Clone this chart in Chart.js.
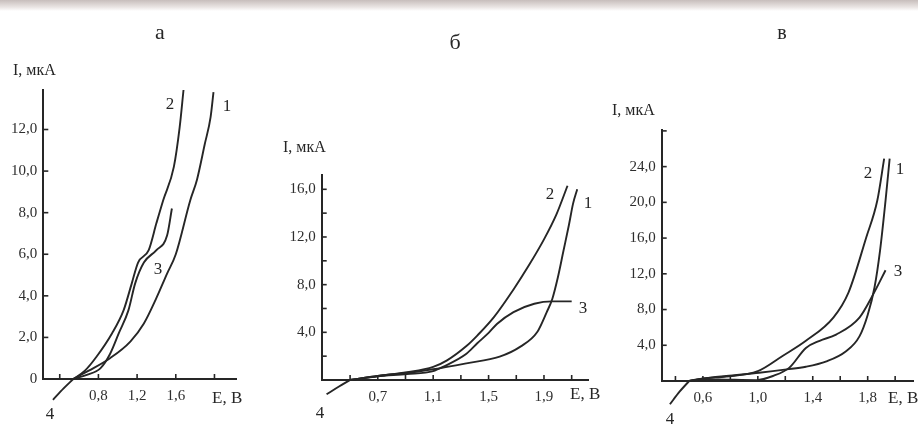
<!DOCTYPE html>
<html><head><meta charset="utf-8">
<script src="https://cdn.jsdelivr.net/npm/chart.js@4.4.0/dist/chart.umd.min.js"></script>
<style>
html,body{margin:0;padding:0;background:#fff;}
#wrap{position:relative;width:918px;height:424px;overflow:hidden;background:#fff;font-family:"Liberation Serif","DejaVu Serif",serif;color:#262626;}
canvas{position:absolute;left:0;top:0;}
.t{position:absolute;white-space:nowrap;line-height:1;}
.c{transform:translate(-50%,-50%);}
.l{transform:translate(0,-50%);}
#band{position:absolute;left:0;top:0;width:918px;height:11px;background:linear-gradient(to bottom, rgba(196,186,184,0.95), rgba(225,218,216,0.7) 65%, rgba(255,255,255,0));}
</style></head><body>
<div id="wrap">
<div id="band"></div>
<canvas id="ca" width="918" height="424"></canvas>
<canvas id="cb" width="918" height="424"></canvas>
<canvas id="cv" width="918" height="424"></canvas>

<div class="t c" style="left:160px;top:32px;font-size:22px;">а</div>
<div class="t c" style="left:455px;top:42px;font-size:22px;">б</div>
<div class="t c" style="left:782px;top:32px;font-size:20px;">в</div>

<div class="t l" style="left:13px;top:70px;font-size:16px;">I, мкА</div>
<div class="t l" style="left:283px;top:147px;font-size:16px;">I, мкА</div>
<div class="t l" style="left:612px;top:110px;font-size:16px;">I, мкА</div>

<div class="t l" style="left:212px;top:397px;font-size:17px;">E, В</div>
<div class="t l" style="left:570px;top:393px;font-size:17px;">E, В</div>
<div class="t l" style="left:888px;top:397px;font-size:17px;">E, В</div>

<div class="t c" style="left:170px;top:103px;font-size:17px;">2</div>
<div class="t c" style="left:227px;top:105px;font-size:17px;">1</div>
<div class="t c" style="left:158px;top:268px;font-size:17px;">3</div>
<div class="t c" style="left:50px;top:413px;font-size:17px;">4</div>

<div class="t c" style="left:550px;top:193px;font-size:17px;">2</div>
<div class="t c" style="left:588px;top:202px;font-size:17px;">1</div>
<div class="t c" style="left:583px;top:307px;font-size:17px;">3</div>
<div class="t c" style="left:320px;top:412px;font-size:17px;">4</div>

<div class="t c" style="left:868px;top:172px;font-size:17px;">2</div>
<div class="t c" style="left:900px;top:168px;font-size:17px;">1</div>
<div class="t c" style="left:898px;top:270px;font-size:17px;">3</div>
<div class="t c" style="left:670px;top:418px;font-size:17px;">4</div>
</div>
<script>
// ---------- Panel а ----------
const aCurve1E = [0.54, 0.70, 0.92, 1.13, 1.27, 1.40, 1.51, 1.60, 1.75, 1.82, 1.90, 1.96, 1.99];
const aCurve1I = [0, 0.40, 1.0, 1.8, 2.67, 3.9, 5.07, 6.0, 8.6, 9.6, 11.3, 12.6, 13.8];
const aCurve2E = [0.54, 0.66, 0.78, 0.94, 1.06, 1.145, 1.21, 1.32, 1.40, 1.47, 1.58, 1.64, 1.68];
const aCurve2I = [0, 0.40, 1.07, 2.19, 3.3, 4.6, 5.6, 6.2, 7.5, 8.6, 10.2, 12.1, 13.9];
const aCurve3E = [0.54, 0.68, 0.82, 0.92, 1.01, 1.11, 1.18, 1.27, 1.40, 1.51, 1.56];
const aCurve3I = [0, 0.20, 0.51, 1.2, 2.19, 3.3, 4.6, 5.6, 6.2, 6.9, 8.2];
const aCurve4E = [0.33, 0.44, 0.54];
const aCurve4I = [-1.0, -0.45, 0];
const aXTicks = [0.4, 0.8, 1.2, 1.6, 2.0];
const aXLabels = [0.8, 1.2, 1.6];
const aYTicks = [0, 2, 4, 6, 8, 10, 12];
const aYLabels = [0, 2, 4, 6, 8, 10, 12];

// ---------- Panel б ----------
const bCurve1E = [0.5, 0.7, 0.91, 1.1, 1.34, 1.58, 1.73, 1.85, 1.92, 1.96, 2.00, 2.04, 2.08, 2.11, 2.14];
const bCurve1I = [0, 0.34, 0.6, 0.9, 1.4, 1.96, 2.8, 4.0, 5.7, 6.8, 8.6, 10.8, 13.0, 14.8, 16.0];
const bCurve2E = [0.5, 0.7, 0.91, 1.1, 1.2, 1.34, 1.42, 1.54, 1.68, 1.79, 1.90, 1.99, 2.07];
const bCurve2I = [0, 0.34, 0.65, 1.1, 1.65, 2.85, 3.75, 5.3, 7.6, 9.6, 11.8, 13.9, 16.3];
const bCurve3E = [0.5, 0.7, 0.91, 1.1, 1.17, 1.34, 1.42, 1.5, 1.56, 1.68, 1.83, 1.96, 2.10];
const bCurve3I = [0, 0.3, 0.5, 0.75, 1.1, 2.2, 3.1, 3.95, 4.7, 5.7, 6.4, 6.6, 6.6];
const bCurve4E = [0.33, 0.42, 0.5];
const bCurve4I = [-1.2, -0.55, 0];
const bXTicks = [0.5, 0.7, 0.9, 1.1, 1.3, 1.5, 1.7, 1.9, 2.1];
const bXLabels = [0.7, 1.1, 1.5, 1.9];
const bYTicks = [2, 4, 6, 8, 10, 12, 14, 16];
const bYLabels = [4, 8, 12, 16];

// ---------- Panel в ----------
const vCurve1E = [0.5, 0.6, 0.77, 1.01, 1.21, 1.35, 1.50, 1.64, 1.74, 1.80, 1.85, 1.89, 1.93, 1.96];
const vCurve1I = [0, 0.26, 0.56, 0.93, 1.3, 1.6, 2.2, 3.3, 5.0, 7.4, 10.5, 14.6, 20.2, 24.9];
const vCurve2E = [0.5, 0.6, 0.77, 1.0, 1.18, 1.35, 1.55, 1.66, 1.79, 1.87, 1.92];
const vCurve2I = [0, 0.3, 0.5, 1.1, 2.8, 4.5, 7.1, 9.9, 16.1, 20.2, 24.9];
const vCurve3E = [0.5, 0.6, 0.77, 0.99, 1.11, 1.23, 1.35, 1.45, 1.57, 1.74, 1.84, 1.93];
const vCurve3I = [0, 0.2, 0.15, 0.1, 0.56, 1.5, 3.7, 4.5, 5.2, 7.1, 9.7, 12.4];
const vCurve4E = [0.36, 0.43, 0.5];
const vCurve4I = [-2.6, -1.2, 0];
const vXTicks = [0.4, 0.6, 0.8, 1.0, 1.2, 1.4, 1.6, 1.8, 2.0];
const vXLabels = [0.6, 1.0, 1.4, 1.8];
const vYTicks = [4, 8, 12, 16, 20, 24, 28];
const vYLabels = [4, 8, 12, 16, 20, 24];

const fmt = v => v === 0 ? '0' : v.toFixed(1).replace('.', ',');
const pts = (E, I) => E.map((e, i) => ({x: e, y: I[i]}));
const INK = '#262626';

const inwardTicks = {
  id: 'inwardTicks',
  afterDraw(chart) {
    const ctx = chart.ctx, a = chart.chartArea;
    const xs = chart.scales.x, ys = chart.scales.y;
    ctx.save();
    ctx.strokeStyle = INK; ctx.lineWidth = 1.6;
    xs.ticks.forEach(t => {
      const px = xs.getPixelForValue(t.value);
      if (px <= a.left + 1) return;
      ctx.beginPath(); ctx.moveTo(px, a.bottom); ctx.lineTo(px, a.bottom - 5); ctx.stroke();
    });
    ys.ticks.forEach(t => {
      if (t.value === 0) return;
      const py = ys.getPixelForValue(t.value);
      ctx.beginPath(); ctx.moveTo(a.left, py); ctx.lineTo(a.left + 5, py); ctx.stroke();
    });
    ctx.restore();
  }
};

function panel(id, curves, xr, yr, xTicks, xLabels, yTicks, yLabels, pad) {
  new Chart(document.getElementById(id), {
    type: 'line',
    data: {
      datasets: curves.map(c => ({
        data: pts(c[0], c[1]),
        borderColor: INK, borderWidth: 1.9, pointRadius: 0,
        cubicInterpolationMode: 'monotone', fill: false, clip: false
      }))
    },
    options: {
      responsive: false, animation: false,
      layout: {padding: pad},
      plugins: {legend: {display: false}, tooltip: {enabled: false}},
      scales: {
        x: {
          type: 'linear', min: xr[0], max: xr[1],
          afterBuildTicks: s => { s.ticks = xTicks.map(v => ({value: v})); },
          afterFit: s => { s.height = 30; },
          grid: {display: false, drawTicks: false},
          border: {display: true, color: INK, width: 2},
          ticks: {autoSkip: false, maxRotation: 0, padding: 8, color: '#2e2e2e',
            font: {family: 'Liberation Serif', size: 15},
            callback: v => xLabels.includes(v) ? fmt(v) : ''}
        },
        y: {
          type: 'linear', min: yr[0], max: yr[1],
          afterBuildTicks: s => { s.ticks = yTicks.map(v => ({value: v})); },
          afterFit: s => { s.width = 40; },
          grid: {display: false, drawTicks: false},
          border: {display: true, color: INK, width: 2},
          ticks: {autoSkip: false, padding: 6, color: '#2e2e2e',
            font: {family: 'Liberation Serif', size: 15},
            callback: v => yLabels.includes(v) ? fmt(v) : ''}
        }
      }
    },
    plugins: [inwardTicks]
  });
}

panel('ca',
  [[aCurve1E, aCurve1I], [aCurve2E, aCurve2I], [aCurve3E, aCurve3I], [aCurve4E, aCurve4I]],
  [0.23, 2.23], [0, 13.9], aXTicks, aXLabels, aYTicks, aYLabels,
  {left: 3.3, right: 681.3, top: 90, bottom: 15});

panel('cb',
  [[bCurve1E, bCurve1I], [bCurve2E, bCurve2I], [bCurve3E, bCurve3I], [bCurve4E, bCurve4I]],
  [0.295, 2.22], [0, 17.2], bXTicks, bXLabels, bYTicks, bYLabels,
  {left: 281.7, right: 329.7, top: 175, bottom: 14});

panel('cv',
  [[vCurve1E, vCurve1I], [vCurve2E, vCurve2I], [vCurve3E, vCurve3I], [vCurve4E, vCurve4I]],
  [0.30, 2.13], [0, 28.1], vXTicks, vXLabels, vYTicks, vYLabels,
  {left: 621.7, right: 5, top: 130, bottom: 13});
</script>
</body></html>
